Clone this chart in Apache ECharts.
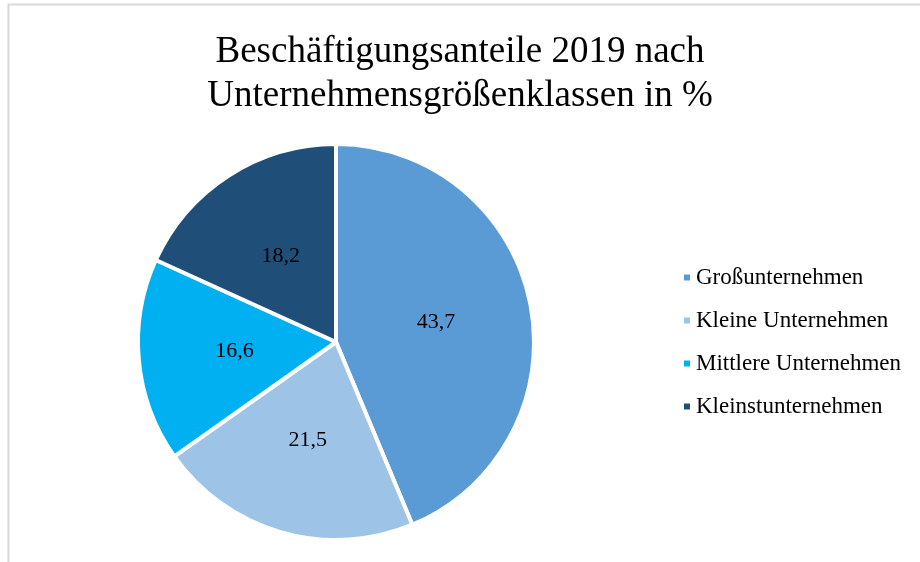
<!DOCTYPE html>
<html>
<head>
<meta charset="utf-8">
<script src="https://cdn.jsdelivr.net/npm/echarts@6/dist/echarts.min.js"></script>
<style>
  html, body { margin: 0; padding: 0; background: #fff; }
  #chart { width: 920px; height: 562px; }
</style>
</head>
<body>
<div id="chart"></div>
<script>
    // Daten
    var categories = ['Großunternehmen', 'Kleine Unternehmen', 'Mittlere Unternehmen', 'Kleinstunternehmen'];
    var values = [43.7, 21.5, 16.6, 18.2];
    var colors = ['#5B9BD5', '#9DC3E6', '#00B0F0', '#1F4E79'];

    var serif = '"Liberation Serif", "Times New Roman", serif';

    var chart = echarts.init(document.getElementById('chart'));
    chart.setOption({
        animation: false,
        title: {
            text: 'Beschäftigungsanteile 2019 nach\nUnternehmensgrößenklassen in %',
            left: 'center',
            top: 25,
            textStyle: {
                fontFamily: serif,
                fontWeight: 'normal',
                fontSize: 37,
                lineHeight: 44,
                color: '#000'
            }
        },
        legend: {
            data: categories,
            orient: 'vertical',
            left: 677,
            top: 261,
            itemWidth: 8,
            itemHeight: 8,
            itemGap: 20,
            icon: 'rect',
            textStyle: {
                fontFamily: serif,
                fontSize: 23,
                color: '#000'
            }
        },
        graphic: [{
            type: 'polyline',
            shape: { points: [[8.5, 562], [8.5, 4.5], [920, 4.5]] },
            style: { stroke: '#d9d9d9', lineWidth: 2, fill: null }
        }],
        series: [{
            type: 'pie',
            center: [336, 342],
            radius: 198,
            startAngle: 90,
            clockwise: true,
            itemStyle: { borderColor: '#fff', borderWidth: 4 },
            label: {
                show: true,
                position: 'inside',
                formatter: function (p) { return String(p.value).replace('.', ','); },
                fontFamily: serif,
                fontSize: 22,
                color: '#000'
            },
            labelLine: { show: false },
            emphasis: { disabled: true },
            data: categories.map(function (name, i) {
                return { name: name, value: values[i], itemStyle: { color: colors[i] } };
            })
        }]
    });
</script>
</body>
</html>
